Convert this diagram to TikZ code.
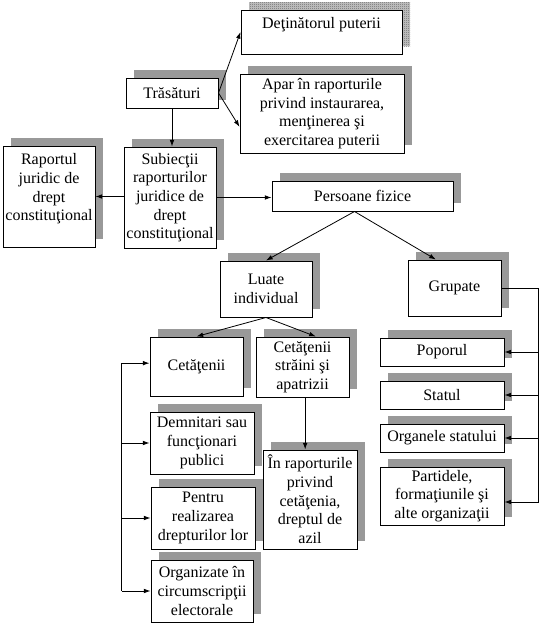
\documentclass[tikz,border=0pt]{standalone}
\usepackage{fontspec}
\setmainfont{Liberation Serif}
\usetikzlibrary{arrows.meta,shadows,patterns,calc}

% fine dither for the first shadow
\pgfdeclarepatternformonly{dither}{\pgfpointorigin}{\pgfqpoint{1.5pt}{1.5pt}}{\pgfqpoint{1.5pt}{1.5pt}}{%
  \pgfpathrectangle{\pgfpointorigin}{\pgfqpoint{0.75pt}{0.75pt}}%
  \pgfpathrectangle{\pgfqpoint{0.75pt}{0.75pt}}{\pgfqpoint{0.75pt}{0.75pt}}%
  \pgfusepath{fill}}

\begin{document}
\begin{tikzpicture}[
    x=0.75pt, y=-0.75pt,
    card/.style={rectangle, draw, fill=white, line width=0.75pt, align=center, inner xsep=1pt, inner ysep=1pt, font=\fontsize{12}{14}\selectfont},
    box/.style={card, drop shadow={shadow xshift=6pt, shadow yshift=6pt, fill=black!40, opacity=1}},
    dotbox/.style={card,
        drop shadow={shadow xshift=6pt, shadow yshift=6pt, fill=black!22, opacity=1},
        drop shadow={shadow xshift=6pt, shadow yshift=6pt, pattern=dither, pattern color=black!60, opacity=1}},
    arrow/.style={-{Latex[length=5pt,width=3.5pt]}, line width=0.6pt},
    bus/.style={line width=0.6pt}
]

\useasboundingbox (0,0) rectangle (540,625);

% Characteristics
\node[dotbox, minimum width=120.75pt, minimum height=33pt] (det) at (321.5,32) {Deţinătorul puterii\\~};
\node[box, minimum width=69pt, minimum height=22.5pt] (tras) at (172,93) {Trăsături};
\node[box, minimum width=123pt, minimum height=59.25pt] (apar) at (322,113.5) {Apar în raporturile\\privind instaurarea,\\menţinerea şi\\exercitarea puterii};

% Relation and subjects
\node[box, minimum width=69pt, minimum height=75.75pt] (raport) at (49,196.5) {Raportul\\juridic de\\drept\\constituţional\\~};
\node[box, minimum width=69pt, minimum height=75.75pt] (subiect) at (170,197.5) {Subiecţii\\raporturilor\\juridice de\\drept\\constituţional};

% Natural persons
\node[box, minimum width=135.75pt, minimum height=22.5pt] (pers) at (362.5,196) {Persoane fizice};
\node[box, minimum width=69pt, minimum height=42pt] (luate) at (266,289) {Luate\\individual};
\node[box, minimum width=69.75pt, minimum height=42pt] (grup) at (454.5,288) {Grupate};

% Taken individually
\node[box, minimum width=69.75pt, minimum height=44.25pt] (cet) at (196.5,366.5) {Cetăţenii};
\node[box, minimum width=69.75pt, minimum height=45pt] (strain) at (302.5,367) {Cetăţenii\\străini şi\\apatrizii};
\node[box, minimum width=78pt, minimum height=46.5pt] (demn) at (202,443) {Demnitari sau\\funcţionari\\publici};
\node[box, minimum width=78pt, minimum height=46.5pt] (pentru) at (203,518) {Pentru\\realizarea\\drepturilor lor};
\node[box, minimum width=76.5pt, minimum height=46.5pt] (organiz) at (202,591) {Organizate în\\circumscripţii\\electorale};
\node[box, minimum width=70.5pt, minimum height=74.25pt] (inrap) at (310,499.5) {În raporturile\\privind\\cetăţenia,\\dreptul de\\azil};

% Grouped
\node[box, minimum width=93pt, minimum height=21pt] (popor) at (442,352) {Poporul};
\node[box, minimum width=93pt, minimum height=21pt] (statul) at (442,395) {Statul};
\node[box, minimum width=93pt, minimum height=21pt] (organe) at (442,438) {Organele statului};
\node[box, minimum width=93pt, minimum height=43.5pt] (partid) at (442,496) {Partidele,\\formaţiunile şi\\alte organizaţii};

% Arrows
\draw[arrow] (tras.east) -- (det.west);
\draw[arrow] (tras.east) -- ([yshift=-10pt]apar.west);
\draw[arrow] (tras.south) -- (tras.south |- subiect.north);
\draw[arrow, {Latex[length=5pt,width=3.5pt]}-] (raport.east) -- (raport.east -| subiect.west);
\draw[arrow] (subiect.east) -- (subiect.east -| pers.west);

\coordinate (fork) at ([xshift=-6pt]pers.south);
\draw[arrow] (fork) -- (luate.north);
\draw[arrow] (fork) -- ([xshift=-14pt]grup.north);
\draw[arrow] (luate.south) -- (cet.north);
\draw[arrow] (luate.south) -- ([xshift=10pt]strain.north);
\draw[arrow] ([xshift=2pt]strain.south) -- ([xshift=2pt]strain.south |- inrap.north);

% Left bus
\coordinate (busL) at ([xshift=-21pt, yshift=2.5pt]cet.west);
\draw[bus] (busL) -- (busL |- organiz.west);
\draw[arrow] (busL) -- (busL -| cet.west);
\draw[arrow] (busL |- demn.west) -- (demn.west);
\draw[arrow] (busL |- pentru.west) -- (pentru.west);
\draw[arrow] (busL |- organiz.west) -- (organiz.west);

% Right bus
\coordinate (busR) at ([xshift=28pt]grup.east);
\coordinate (partin) at ([yshift=-4.5pt]partid.east);
\draw[bus] (grup.east) -- (busR) -- (busR |- partin);
\draw[arrow] (busR |- popor.east) -- (popor.east);
\draw[arrow] (busR |- statul.east) -- (statul.east);
\draw[arrow] (busR |- organe.east) -- (organe.east);
\draw[arrow] (busR |- partin) -- (partin);

\end{tikzpicture}
\end{document}
